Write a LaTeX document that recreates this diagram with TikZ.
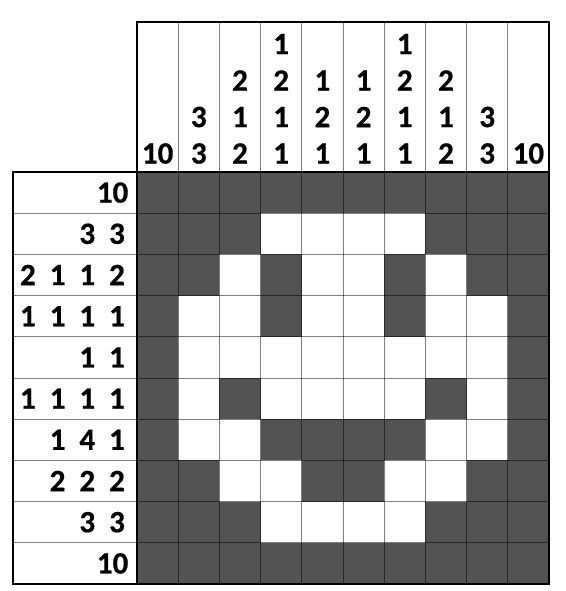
\documentclass[tikz,border=0pt]{standalone}
\usepackage{fontspec}
\setmainfont{Carlito}[BoldFeatures={FakeBold=0.6}]
\tikzset{
  cellfill/.style={fill=black!67.5},
  gridline/.style={draw=black, opacity=0.5, line width=1pt},
  frameline/.style={draw=black, line width=1.3pt, line join=miter},
  clue/.style={font=\fontsize{31}{31}\selectfont\bfseries, inner sep=0pt, text=black}
}
\begin{document}
\begin{tikzpicture}[x=1pt,y=-1pt]
\useasboundingbox (0,0) rectangle (565,591);
\fill[white] (0,0) rectangle (565,591);
\def\cs{41.2}
% filled cells
\foreach \r/\cols in {1/{1,2,3,4,5,6,7,8,9,10}, 2/{1,2,3,8,9,10}, 3/{1,2,4,7,9,10},
  4/{1,4,7,10}, 5/{1,10}, 6/{1,3,8,10}, 7/{1,4,5,6,7,10}, 8/{1,2,5,6,9,10},
  9/{1,2,3,8,9,10}, 10/{1,2,3,4,5,6,7,8,9,10}} {
  \foreach \c in \cols {
    \fill[cellfill] ({137+(\c-1)*\cs},{172+(\r-1)*\cs}) rectangle ++(\cs,\cs);
  }
}
% internal lines
\foreach \k in {1,...,9} {
  \draw[gridline] (13,{172+\k*\cs}) -- (549,{172+\k*\cs});
  \draw[gridline] ({137+\k*\cs},22) -- ({137+\k*\cs},584);
}
\draw[frameline] (137,22) -- (137,584);
\draw[frameline] (13,172) -- (549,172);
\draw[frameline] (137,22) -- (549,22) -- (549,584) -- (13,584) -- (13,172) -- (137,172) -- cycle;
% row clues (right to left)
\foreach \r/\ds in {2/{3,3}, 3/{2,1,1,2}, 4/{1,1,1,1}, 5/{1,1}, 6/{1,1,1,1},
  7/{1,4,1}, 8/{2,2,2}, 9/{3,3}} {
  \foreach \d [count=\k] in \ds {
    \node[clue] (rc\r-\k) at ({117-(\k-1)*29.7},{172+(\r-0.5)*\cs}) {\d};
  }
}
\node[clue, anchor=east] (rc1-1) at (128.5,{172+0.5*\cs}) {10};
\node[clue, anchor=east] (rc10-1) at (128.5,{172+9.5*\cs}) {10};
% column clues (bottom to top)
\foreach \c/\ds in {1/{10}, 2/{3,3}, 3/{2,1,2}, 4/{1,1,2,1}, 5/{1,2,1}, 6/{1,2,1},
  7/{1,1,2,1}, 8/{2,1,2}, 9/{3,3}, 10/{10}} {
  \foreach \d [count=\k] in \ds {
    \node[clue] (cc\c-\k) at ({137+(\c-0.5)*\cs},{153.5-(\k-1)*36.5}) {\d};
  }
}
\end{tikzpicture}
\end{document}
